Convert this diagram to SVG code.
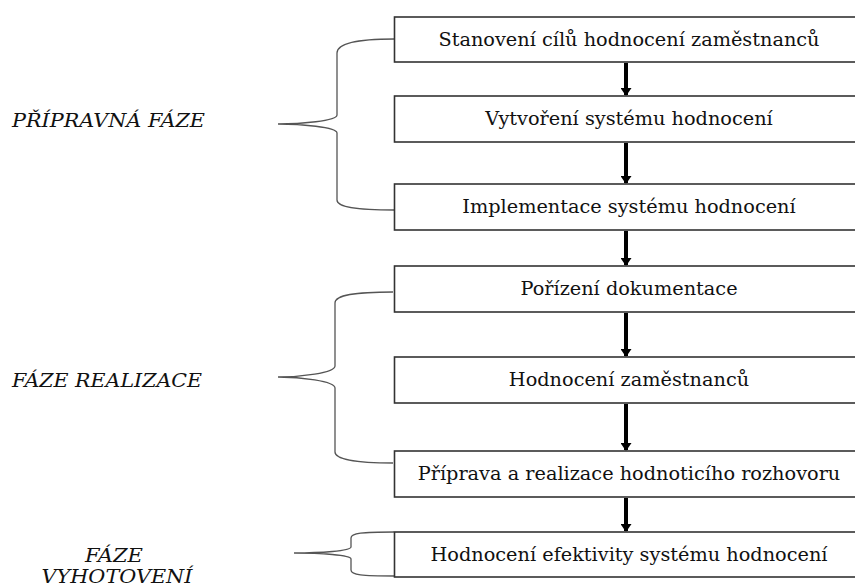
<svg xmlns="http://www.w3.org/2000/svg" width="855" height="586" viewBox="0 0 855 586">
<style>
.box{fill:#fff;stroke:#333;stroke-width:1.6}
.brace{fill:none;stroke:#555;stroke-width:1.3}
.shaft{stroke:#000;stroke-width:4}
</style>
<defs>
<marker id="ah" markerWidth="8" markerHeight="11" refX="7" refY="5.5" orient="auto" markerUnits="userSpaceOnUse" viewBox="0 0 8 11">
<path d="M0,0 L8,5.5 L0,11 Z" fill="#000"/>
</marker>
</defs>
<rect width="855" height="586" fill="#fff"/>
<g font-family="DejaVu Serif, serif" font-size="19" font-style="italic" fill="#111">
<g id="phase1">
<path class="brace" d="M394,39 C355,39 337,44 337,53 L337,115 C337,121 300,124 278,124 C300,124 337,127 337,133 L337,200 C337,207 355,210 394,210"/>
<text x="12" y="127" textLength="193" lengthAdjust="spacingAndGlyphs">PŘÍPRAVNÁ FÁZE</text>
</g>
<g id="phase2">
<path class="brace" d="M393,292 C355,292 335,295 335,303 L335,366 C335,373 300,377 278,377 C300,377 335,381 335,388 L335,452 C335,459 355,463 393,463"/>
<text x="12" y="387" textLength="190" lengthAdjust="spacingAndGlyphs">FÁZE REALIZACE</text>
</g>
<g id="phase3">
<path class="brace" d="M394,532 C362,532 351,533 351,538 L351,547 C351,551 320,553 294,553 C320,553 351,555 351,559 L351,570 C351,575 362,576 394,576"/>
<text x="114" y="562" text-anchor="middle" textLength="58" lengthAdjust="spacingAndGlyphs">FÁZE</text>
<text x="117" y="583" text-anchor="middle" textLength="151" lengthAdjust="spacingAndGlyphs">VYHOTOVENÍ</text>
</g>
</g>
<g id="connectors">
<line class="shaft" x1="626" y1="63" x2="626" y2="95" marker-end="url(#ah)"/>
<line class="shaft" x1="626" y1="143" x2="626" y2="183" marker-end="url(#ah)"/>
<line class="shaft" x1="626" y1="231" x2="626" y2="265" marker-end="url(#ah)"/>
<line class="shaft" x1="626" y1="313" x2="626" y2="356" marker-end="url(#ah)"/>
<line class="shaft" x1="626" y1="404" x2="626" y2="450" marker-end="url(#ah)"/>
<line class="shaft" x1="626" y1="498" x2="626" y2="531" marker-end="url(#ah)"/>
</g>
<g font-family="DejaVu Serif, serif" font-size="19.3" fill="#111" text-anchor="middle">
<g id="n1"><rect class="box" x="394.5" y="17" width="470" height="45"/><text x="629" y="46">Stanovení cílů hodnocení zaměstnanců</text></g>
<g id="n2"><rect class="box" x="394.5" y="96" width="470" height="46"/><text x="629" y="125">Vytvoření systému hodnocení</text></g>
<g id="n3"><rect class="box" x="394.5" y="184" width="470" height="46"/><text x="629" y="213">Implementace systému hodnocení</text></g>
<g id="n4"><rect class="box" x="394.5" y="266" width="470" height="46"/><text x="629" y="295">Pořízení dokumentace</text></g>
<g id="n5"><rect class="box" x="394.5" y="357" width="470" height="46"/><text x="629" y="386">Hodnocení zaměstnanců</text></g>
<g id="n6"><rect class="box" x="394.5" y="451" width="470" height="46"/><text x="629" y="480">Příprava a realizace hodnoticího rozhovoru</text></g>
<g id="n7"><rect class="box" x="394.5" y="532" width="470" height="45"/><text x="629" y="561">Hodnocení efektivity systému hodnocení</text></g>
</g>
</svg>
